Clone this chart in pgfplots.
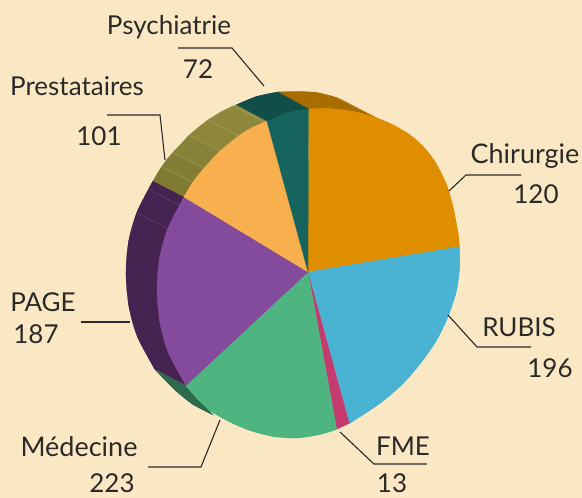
\documentclass[border=0pt]{standalone}
\usepackage{pgfplots}
\pgfplotsset{compat=1.18}
\usepackage{fontspec}
\setmainfont{Lato}

\definecolor{bg}{HTML}{FAE8C4}
\definecolor{ink}{HTML}{2C2A29}
\definecolor{chir}{HTML}{DF8E00}
\definecolor{chirD}{HTML}{A96C00}
\definecolor{psy}{HTML}{17635E}
\definecolor{psyD}{HTML}{114E4A}
\definecolor{pres}{HTML}{F7B04D}
\definecolor{page}{HTML}{844B9C}
\definecolor{pageD}{HTML}{45224F}
\definecolor{med}{HTML}{4EB581}
\definecolor{medD}{HTML}{2D6B4D}
\definecolor{fme}{HTML}{C43B6F}
\definecolor{rubis}{HTML}{4AB3D4}
\definecolor{olA}{HTML}{918A3D}
\definecolor{olB}{HTML}{8F883C}
\definecolor{olC}{HTML}{8C853A}
\definecolor{olD}{HTML}{888138}
\definecolor{olE}{HTML}{837D36}
\definecolor{olF}{HTML}{7F7934}
\definecolor{sepO}{HTML}{AAA35F}
\definecolor{sepP}{HTML}{6E4B78}
\definecolor{sepB}{HTML}{BF8A2A}

\pgfplotsset{
  arc/.style={smooth, tension=0.55, fill=#1, draw=#1, line width=0.2pt, line join=round},
  seg/.style={fill=#1, draw=#1, line width=0.2pt, line join=round},
  sep/.style={draw=#1, line width=0.35pt},
  leader/.style={draw=ink, line width=1.1pt},
}
\tikzset{lab/.style={anchor=base, inner sep=0pt, text=ink, font=\fontsize{26}{26}\selectfont}}

\begin{document}
\begin{tikzpicture}
\begin{axis}[
  scale only axis, width=582pt, height=498pt,
  xmin=0, xmax=582, ymin=0, ymax=498,
  y dir=reverse, hide axis,
]
% background
\addplot[fill=bg, draw=none] coordinates {(0,0) (582,0) (582,498) (0,498)};

% side of the pie
\addplot[arc=chirD] coordinates {(278,92)(300,91.7)(316.7,92.6)(336.7,97.7)(356.7,107.7)(376.7,118)};
\addplot[seg=chirD] coordinates {(278,92)(300,91.7)(316.7,92.6)(336.7,97.7)(356.7,107.7)(376.7,118)(308.5,110)};
\addplot[sep=sepB] coordinates {(336.7,98)(376,117.5)};
\addplot[arc=psyD] coordinates {(236,105)(256.5,96.5)(278,92)};
\addplot[seg=psyD] coordinates {(236,105)(256.5,96.5)(278,92)(308.5,109)(267,121.5)};
\addplot[seg=olA] coordinates {(236,105)(233,106)(264,122)(267,121.5)};
\addplot[seg=olB] coordinates {(233,106)(221.6,111.4)(207.7,120)(238.7,136)(252.6,127.4)(264,122)};
\addplot[seg=olC] coordinates {(207.7,120)(198.2,127.5)(189,135.2)(220,151.2)(229.2,143.5)(238.7,136)};
\addplot[seg=olD] coordinates {(189,135.2)(180.9,144)(172.9,152.4)(203.9,168.4)(211.9,160)(220,151.2)};
\addplot[seg=olE] coordinates {(172.9,152.4)(167,159.2)(161.7,166.5)(192.7,182.5)(198,175.2)(203.9,168.4)};
\addplot[seg=olF] coordinates {(161.7,166.5)(156.9,174.1)(153,181)(184,197)(187.9,190.1)(192.7,182.5)};
\addplot[arc=pageD] coordinates {(153,181)(137,212)(128.5,242)(126,274)(129,307)(137.5,337)(155,369.5)};
\addplot[seg=pageD] coordinates {(153,181)(137,212)(128.5,242)(126,274)(129,307)(137.5,337)(155,369.5)(186,385.5)(184,197)};
\addplot[arc=medD] coordinates {(155,369.5)(175,390)(193,404.5)(213.3,415)};
\addplot[seg=medD] coordinates {(155,369.5)(175,390)(193,404.5)(213.3,415)(186,385.5)};

% thin lines across the side
\addplot[sep=sepO] coordinates {(233,106)(264,122)};
\addplot[sep=sepO] coordinates {(207.7,120)(238.7,136)};
\addplot[sep=sepO] coordinates {(189,135.2)(220,151.2)};
\addplot[sep=sepO] coordinates {(172.9,152.4)(203.9,168.4)};
\addplot[sep=sepO] coordinates {(161.7,166.5)(192.7,182.5)};
\addplot[sep=sepP] coordinates {(148,189)(179,205)};
\addplot[sep=sepP] coordinates {(137,213)(168,229)};

% top of the pie: smooth outer arc, then the same points closed on the centre
\addplot[arc=chir] coordinates {(308.5,109)(326.7,108.5)(343.3,110)(360,113)(376.7,118)(393.3,125)(410,135)(423.3,146.7)(435,161.7)(446.7,185)(453.3,208.3)(458.3,235)(459.3,246.7)};
\addplot[seg=chir] coordinates {(308,272)(308.5,109)(326.7,108.5)(343.3,110)(360,113)(376.7,118)(393.3,125)(410,135)(423.3,146.7)(435,161.7)(446.7,185)(453.3,208.3)(458.3,235)(459.3,246.7)(308,272)};
\addplot[arc=rubis] coordinates {(459.3,246.7)(459.6,266.7)(456.7,290)(448.3,316)(436.7,340)(421.7,361.7)(403.3,383.3)(380,403.3)(349.3,423.5)};
\addplot[seg=rubis] coordinates {(308,272)(459.3,246.7)(459.6,266.7)(456.7,290)(448.3,316)(436.7,340)(421.7,361.7)(403.3,383.3)(380,403.3)(349.3,423.5)(308,272)};
\addplot[seg=fme] coordinates {(308,272)(349.3,423.5)(336.7,429.3)(308,272)};
\addplot[arc=med] coordinates {(336.7,429.3)(320,434.5)(296.7,438)(273.3,436.5)(250,430.5)(230,422)(211.5,411.5)(197,398.5)(186,385.5)};
\addplot[seg=med] coordinates {(308,272)(336.7,429.3)(320,434.5)(296.7,438)(273.3,436.5)(250,430.5)(230,422)(211.5,411.5)(197,398.5)(186,385.5)(308,272)};
\addplot[arc=page] coordinates {(186,385.5)(168.5,353)(160,323)(157,290)(159.5,258)(168,228)(184,197)};
\addplot[seg=page] coordinates {(308,272)(186,385.5)(168.5,353)(160,323)(157,290)(159.5,258)(168,228)(184,197)(308,272)};
\addplot[arc=pres] coordinates {(184,197)(192.7,182.5)(203.9,168.4)(220,151.2)(238.7,136)(252.6,127.4)(267,121.5)};
\addplot[seg=pres] coordinates {(308,272)(184,197)(192.7,182.5)(203.9,168.4)(220,151.2)(238.7,136)(252.6,127.4)(267,121.5)(308,272)};
\addplot[arc=psy] coordinates {(267,121.5)(287.4,112.8)(308.5,109)};
\addplot[seg=psy] coordinates {(308,272)(267,121.5)(287.4,112.8)(308.5,109)(308,272)};

% leader lines
\addplot[leader] coordinates {(178,48)(232,48)(264,86)};
\addplot[leader] coordinates {(107,115)(160,115)(165,160)};
\addplot[leader] coordinates {(81,322)(130,322)};
\addplot[leader] coordinates {(148,467)(201,467)(220,420)};
\addplot[leader] coordinates {(340,432)(374,464)(427,464)};
\addplot[leader] coordinates {(448,315)(477,347)(531,347)};
\addplot[leader] coordinates {(449,191)(466,175)(521,175)};

% labels
\node[lab] at (axis cs:169,34) {Psychiatrie};
\node[lab] at (axis cs:198,78) {72};
\node[lab] at (axis cs:77,95) {Prestataires};
\node[lab] at (axis cs:99,145) {101};
\node[lab] at (axis cs:43,311) {PAGE};
\node[lab] at (axis cs:36,343) {187};
\node[lab, font=\fontsize{27}{27}\selectfont] at (axis cs:79,456) {Médecine};
\node[lab] at (axis cs:112,492) {223};
\node[lab] at (axis cs:403,455) {FME};
\node[lab] at (axis cs:392,492) {13};
\node[lab, font=\fontsize{27}{27}\selectfont] at (axis cs:525,163) {Chirurgie};
\node[lab] at (axis cs:536,203) {120};
\node[lab] at (axis cs:519,336) {RUBIS};
\node[lab] at (axis cs:550,377) {196};
\end{axis}
\end{tikzpicture}
\end{document}
